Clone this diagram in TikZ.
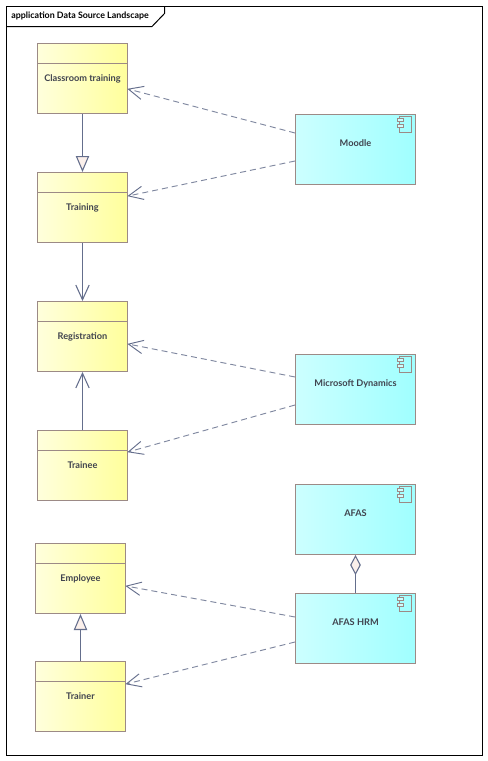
\documentclass[tikz,border=0pt]{standalone}
\usepackage{fontspec}
\setmainfont{Lato}
\usetikzlibrary{arrows.meta,calc}
\definecolor{edgec}{HTML}{9C8A86}
\definecolor{linkc}{HTML}{646E8C}
\definecolor{dashc}{HTML}{8088A0}
\definecolor{headfill}{HTML}{FBF0EB}
\definecolor{txtc}{HTML}{40434E}
\definecolor{yelL}{HTML}{FFFFDC}
\definecolor{yelR}{HTML}{FFFF9C}
\definecolor{cyaL}{HTML}{CCFFFF}
\definecolor{cyaR}{HTML}{A0FFFF}
\tikzset{
  x=0.75pt,y=-0.75pt,
  txt/.style={font=\fontsize{6.9pt}{8pt}\selectfont\bfseries,text=txtc,text height=5pt,text depth=1.5pt},
  classbox/.style={draw=edgec,line width=0.75pt,left color=yelL,right color=yelR,
    minimum width=67.5pt,minimum height=52.5pt,inner sep=0pt,
    label={[txt,yshift=-0.6pt]center:#1}},
  compbox/.style={draw=edgec,line width=0.75pt,left color=cyaL,right color=cyaR,
    minimum width=90pt,minimum height=52.5pt,inner sep=0pt,
    label={[txt,yshift=3.65pt]center:#1}},
  frameline/.style={draw=black,line width=0.75pt},
  solidlink/.style={draw=linkc,line width=0.9pt},
  dep/.style={draw=dashc,line width=0.7pt,dash pattern=on 4.5pt off 3pt,shorten >=-0.5pt,
    -{Straight Barb[length=11pt,width=10pt,line width=0.7pt,color=linkc]}},
  nav/.style={solidlink,-{Straight Barb[length=11pt,width=10pt,line width=0.8pt]}},
  gen/.style={solidlink,-{Triangle[open,fill=headfill,length=12pt,width=10pt,line width=0.8pt]}},
  agg/.style={solidlink,-{Diamond[open,fill=headfill,length=15pt,width=8pt,line width=0.8pt]}},
  icon/.style={draw=edgec,line width=0.7pt},
}
\newcommand{\compicon}[1]{%
  \draw[icon] ($(#1.north east)+(-17,2.5)$) rectangle ($(#1.north east)+(-5,18.5)$);
  \draw[icon,fill=cyaL] ($(#1.north east)+(-19,4.5)$) rectangle ($(#1.north east)+(-13,7.8)$);
  \draw[icon,fill=cyaL] ($(#1.north east)+(-19,10.5)$) rectangle ($(#1.north east)+(-13,13.8)$);
}
\newcommand{\classdiv}[1]{%
  \draw[edgec,line width=0.75pt] ($(#1.north west)+(0,20)$) -- ($(#1.north east)+(0,20)$);
}
\begin{document}
\begin{tikzpicture}
\useasboundingbox[fill=white] (0,0) rectangle (487,761);
% frame
\draw[frameline] (6.5,6.5) rectangle (482.5,755.5);
\draw[frameline] (6.5,26.5) -- (152,26.5) -- (164.5,13.5) -- (164.5,6.5);
\node[font=\fontsize{6.65pt}{8pt}\selectfont\bfseries,text=black,anchor=west,inner sep=0pt] (title) at (11,16) {application Data Source Landscape};
% classes
\node[classbox={Classroom training}] (classroom) at (82.5,78.5) {};
\node[classbox={Training}] (training) at (82.5,207.5) {};
\node[classbox={Registration}] (registration) at (82.5,336.5) {};
\node[classbox={Trainee}] (trainee) at (82.5,465.5) {};
\node[classbox={Employee}] (employee) at (80.5,578.5) {};
\node[classbox={Trainer}] (trainer) at (80.5,696.5) {};
\foreach \n in {classroom,training,registration,trainee,employee,trainer}{\classdiv{\n}}
% components
\node[compbox={Moodle}] (moodle) at (355.5,149) {};
\node[compbox={Microsoft Dynamics}] (dynamics) at (355.5,389) {};
\node[compbox={AFAS}] (afas) at (355.5,519.5) {};
\node[compbox={AFAS HRM}] (hrm) at (355.5,628.5) {};
\foreach \n in {moodle,dynamics,afas,hrm}{\compicon{\n}}
% connectors
\draw[gen] (classroom) -- (training);
\draw[nav] (training) -- (registration);
\draw[nav] (trainee) -- (registration);
\draw[gen] (trainer) -- (employee);
\draw[agg] (hrm) -- (afas);
\draw[dep] ($(moodle.west)+(0,-16)$) -- ($(classroom.east)+(0,10.5)$);
\draw[dep] ($(moodle.west)+(0,12)$) -- ($(training.east)+(0,-11.5)$);
\draw[dep] ($(dynamics.west)+(0,-12)$) -- ($(registration.east)+(0,7.5)$);
\draw[dep] ($(dynamics.west)+(0,16)$) -- ($(trainee.east)+(0,-13.5)$);
\draw[dep] ($(hrm.west)+(0,-11.5)$) -- ($(employee.east)+(0,7.5)$);
\draw[dep] ($(hrm.west)+(0,13.5)$) -- ($(trainer.east)+(0,-12.5)$);
\end{tikzpicture}
\end{document}
